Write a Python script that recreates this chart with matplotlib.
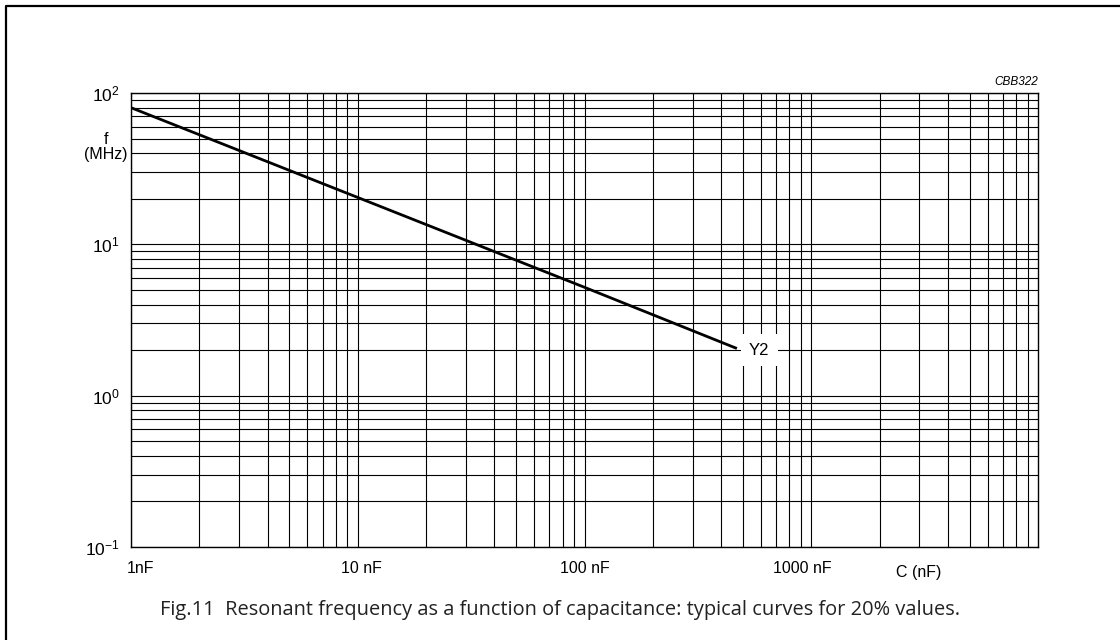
import matplotlib
matplotlib.use("Agg")
import matplotlib.pyplot as plt
from matplotlib.lines import Line2D
from matplotlib.transforms import ScaledTranslation

plt.rcParams['font.family'] = ['Liberation Sans', 'DejaVu Sans']
plt.rcParams['mathtext.fontset'] = 'custom'
plt.rcParams['mathtext.rm'] = 'Liberation Sans'
plt.rcParams['axes.unicode_minus'] = False

# resonant frequency curve Y2
cap_nf = [1, 10, 100, 470]
freq_mhz = [80, 20.4, 5.2, 2.05]

x_ticks = [1, 10, 100, 1000]
x_tick_labels = ["1nF", "10 nF", "100 nF", "1000 nF"]
x_label_shift = [9, 4, 0, -9]  # px, labels are not exactly centred on ticks

fig = plt.figure(figsize=(11.2, 6.4), dpi=100)
ax = fig.add_axes([131 / 1120, 1 - 547 / 640, 907 / 1120, 454 / 640])

ax.set_xscale("log")
ax.set_yscale("log")
ax.set_xlim(1, 10000)
ax.set_ylim(0.1, 100)

ax.grid(True, which="both", color="black", lw=0.8)
ax.set_axisbelow(True)
for sp in ax.spines.values():
    sp.set_linewidth(1.0)

ax.plot(cap_nf, freq_mhz, color="black", lw=2.0, solid_capstyle="butt")
ax.text(590, 2.0, "Y2", ha="center", va="center", fontsize=12,
        bbox=dict(facecolor="white", edgecolor="none", boxstyle="square,pad=0.5"))

ax.set_xticks(x_ticks)
ax.set_xticklabels(x_tick_labels)
ax.tick_params(axis="x", which="both", length=0, pad=10, labelsize=11.5)
ax.tick_params(axis="y", which="both", length=0, pad=8, labelsize=12.5)
ax.set_yticks([0.1, 1, 10, 100])
for lab, dx in zip(ax.get_xticklabels(), x_label_shift):
    lab.set_transform(lab.get_transform() + ScaledTranslation(dx / 100, 0, fig.dpi_scale_trans))

ax.text(-0.0276, 0.881, "f\n(MHz)", transform=ax.transAxes, ha="center", va="center",
        fontsize=11.5, linespacing=1.0)
ax.text(0.869, -0.056, "C (nF)", transform=ax.transAxes, ha="center", va="center",
        fontsize=11.5)
ax.text(1.0, 1.012, "CBB322", transform=ax.transAxes, ha="right", va="bottom",
        fontsize=8.5, style="italic")

fig.text(0.5, 1 - 610 / 640, "Fig.11  Resonant frequency as a function of capacitance: "
         "typical curves for 20% values.", ha="center", va="center",
         fontsize=14.4, family=["Open Sans", "DejaVu Sans"], color="#222222")

# page frame (only top and left edges fall inside the crop)
bx, by = 6 / 1120, 1 - 6 / 640
fig.add_artist(Line2D([bx, bx, 1.0], [0.0, by, by], transform=fig.transFigure,
                      color="black", lw=1.6))

fig.savefig("out.png", dpi=100)
